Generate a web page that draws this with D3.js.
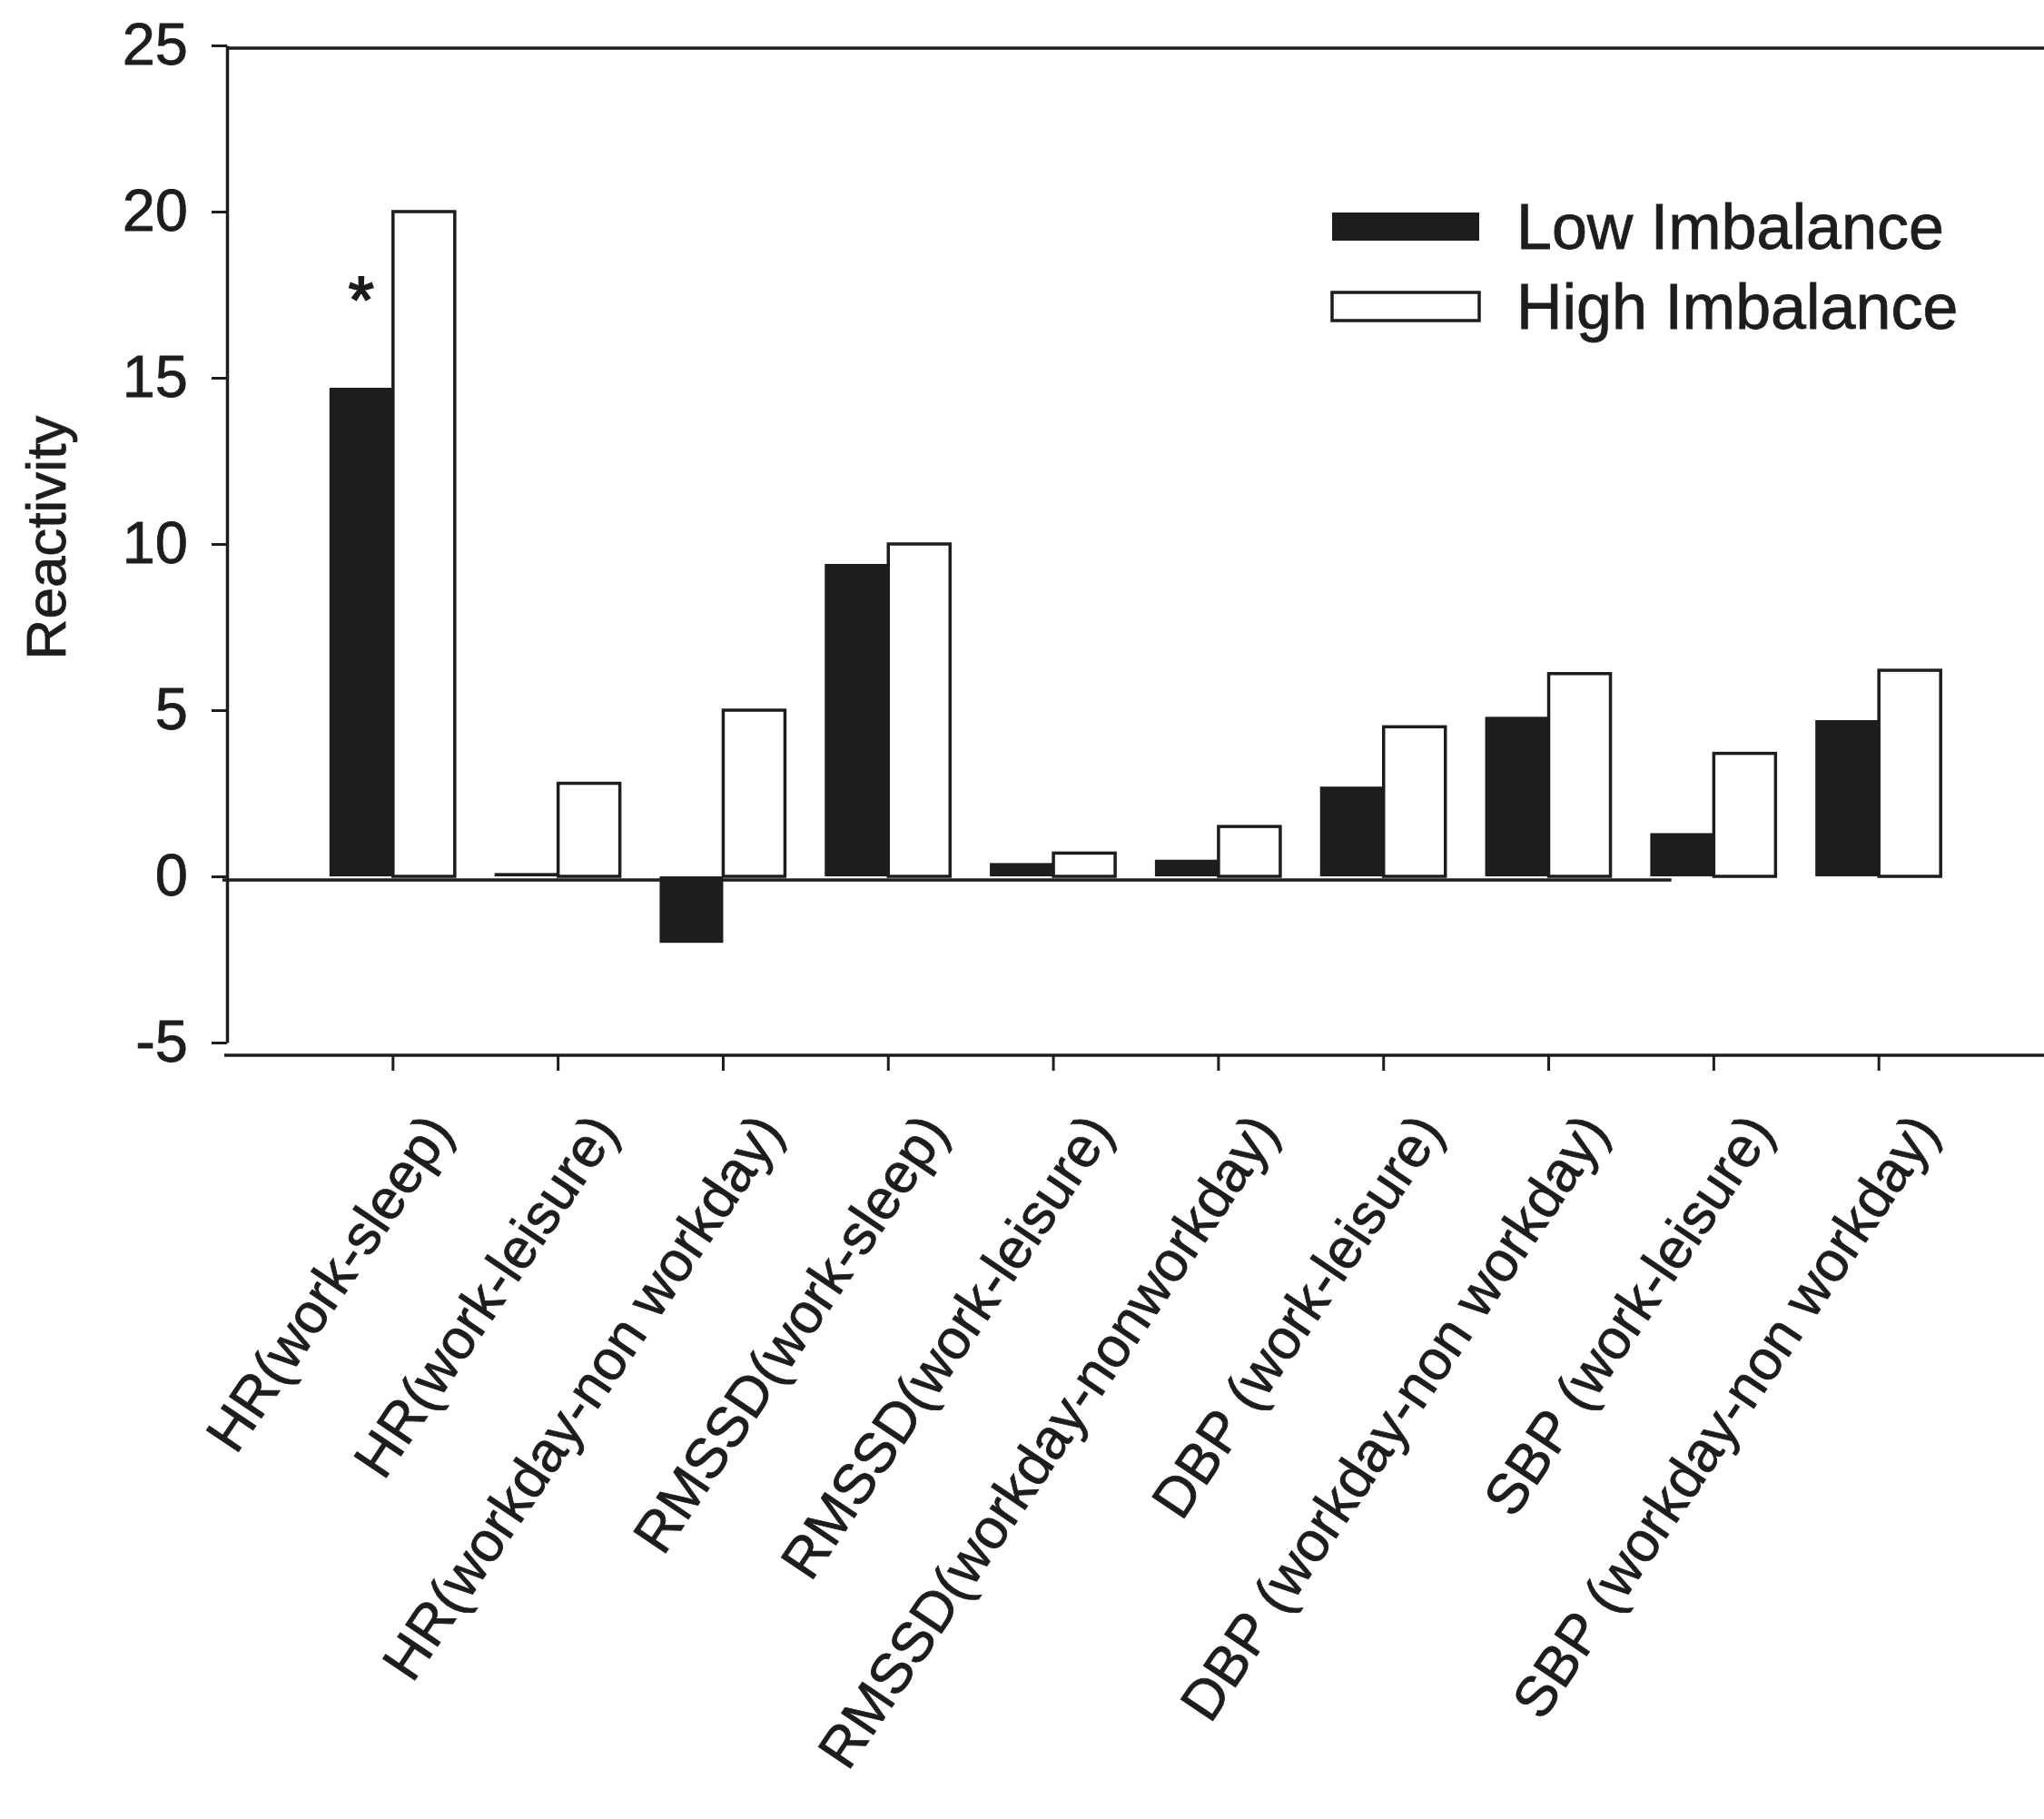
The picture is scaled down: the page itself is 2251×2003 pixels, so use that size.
<!DOCTYPE html>
<html>
<head>
<meta charset="utf-8">
<script src="https://cdn.jsdelivr.net/npm/d3@7"></script>
<style>
  body { margin: 0; background: #fff; }
  svg { display: block; font-family: "Liberation Sans", Arial, sans-serif; }
  text { stroke: #1d1d1d; stroke-width: 0.8px; }
</style>
</head>
<body>
<svg id="chart"></svg>
<script>
// data
const categories = [
  "HR(work-sleep)",
  "HR(work-leisure)",
  "HR(workday-non workday)",
  "RMSSD(work-sleep)",
  "RMSSD(work-leisure)",
  "RMSSD(workday-nonworkday)",
  "DBP (work-leisure)",
  "DBP (workday-non workday)",
  "SBP (work-leisure)",
  "SBP (workday-non workday)"
];
const seriesNames = ["Low Imbalance", "High Imbalance"];
const lowImbalance = [14.7, 0.1, -2.0, 9.4, 0.4, 0.5, 2.7, 4.8, 1.3, 4.7];
const highImbalance = [20.0, 2.8, 5.0, 10.0, 0.7, 1.5, 4.5, 6.1, 3.7, 6.2];
const yTicks = [-5, 0, 5, 10, 15, 20, 25];
const significant = [0]; // index of categories marked with *

const width = 2251, height = 2003;
const ink = "#1d1d1d";

const svg = d3.select("#chart")
    .attr("width", width)
    .attr("height", height);

svg.append("rect").attr("width", width).attr("height", height).attr("fill", "#fff");

// scales
const x0 = d3.scaleBand()
    .domain(categories)
    .range([251, 2251])
    .paddingInner(0.23)
    .paddingOuter(0.615);

const x1 = d3.scaleBand()
    .domain(["low", "high"])
    .range([0, x0.bandwidth()]);

const y = d3.scaleLinear()
    .domain([-5, 25])
    .range([1148, 50]);

const rows = categories.map((c, i) => ({ cat: c, low: lowImbalance[i], high: highImbalance[i] }));

// top frame line
svg.append("line")
    .attr("x1", 250).attr("x2", width)
    .attr("y1", y(25) + 3).attr("y2", y(25) + 3)
    .attr("stroke", ink).attr("stroke-width", 3.5);

// zero reference line (stops partway, as in the figure)
svg.append("line")
    .attr("x1", 245)
    .attr("x2", x0(categories[8]) + x1("low") + x1.bandwidth() / 3)
    .attr("y1", y(0) + 4).attr("y2", y(0) + 4)
    .attr("stroke", ink).attr("stroke-width", 3.5);

// bars
const groups = svg.append("g").selectAll("g")
    .data(rows)
    .join("g")
    .attr("transform", d => `translate(${x0(d.cat)},0)`);

groups.append("rect")
    .attr("x", x1("low"))
    .attr("width", x1.bandwidth())
    .attr("y", d => y(Math.max(0, d.low)))
    .attr("height", d => Math.max(3, Math.abs(y(d.low) - y(0))))
    .attr("fill", ink);

groups.append("rect")
    .attr("x", x1("high"))
    .attr("width", x1.bandwidth() - 2)
    .attr("y", d => y(Math.max(0, d.high)))
    .attr("height", d => Math.abs(y(d.high) - y(0)))
    .attr("fill", "#fff")
    .attr("stroke", ink)
    .attr("stroke-width", 3.5);

// significance marks
svg.append("g").selectAll("text")
    .data(significant)
    .join("text")
    .attr("x", i => x0(categories[i]) + x1("low") + x1.bandwidth() / 2)
    .attr("y", i => y(lowImbalance[i]) - 72)
    .attr("text-anchor", "middle")
    .attr("font-size", 72)
    .attr("fill", ink)
    .style("stroke-width", "2px")
    .text("*");

// y axis
const yAxis = svg.append("g")
    .attr("transform", "translate(250,0)")
    .call(d3.axisLeft(y).tickValues(yTicks).tickFormat(d => String(d))
        .tickSize(17).tickSizeOuter(0).tickPadding(26));
yAxis.select(".domain").attr("stroke", ink).attr("stroke-width", 3.5);
yAxis.selectAll(".tick line").attr("stroke", ink).attr("stroke-width", 3);
yAxis.selectAll(".tick text")
    .attr("font-size", 65)
    .attr("fill", ink)
    .attr("font-family", "'Liberation Sans', Arial, sans-serif");

svg.append("text")
    .attr("transform", "translate(72,592) rotate(-90)")
    .attr("text-anchor", "middle")
    .attr("font-size", 62)
    .attr("fill", ink)
    .text("Reactivity");

// x axis
const xAxis = svg.append("g")
    .attr("transform", "translate(0,1162)")
    .call(d3.axisBottom(x0).tickSize(17).tickSizeOuter(0).tickFormat(""));
xAxis.select(".domain").attr("stroke", ink).attr("stroke-width", 3.5)
    .attr("d", `M247,0H${width}`);
xAxis.selectAll(".tick line").attr("stroke", ink).attr("stroke-width", 3);

svg.append("g").selectAll("text")
    .data(categories)
    .join("text")
    .attr("transform", d => `translate(${x0(d) + x0.bandwidth() / 2 + 50},${1162 + 72}) rotate(-56)`)
    .attr("text-anchor", "end")
    .attr("dominant-baseline", "central")
    .attr("font-size", 62)
    .attr("fill", ink)
    .text(d => d);

// legend
const legend = svg.append("g").attr("transform", "translate(1467,234)");
const legendRows = legend.selectAll("g")
    .data(seriesNames)
    .join("g")
    .attr("transform", (d, i) => `translate(0,${i * 88})`);

legendRows.append("rect")
    .attr("width", 162)
    .attr("height", 31)
    .attr("fill", (d, i) => i === 0 ? ink : "#fff")
    .attr("stroke", ink)
    .attr("stroke-width", (d, i) => i === 0 ? 0 : 3.5);

legendRows.append("text")
    .attr("x", 203)
    .attr("y", 16)
    .attr("dominant-baseline", "central")
    .attr("font-size", 70)
    .attr("fill", ink)
    .text(d => d);
</script>
</body>
</html>
